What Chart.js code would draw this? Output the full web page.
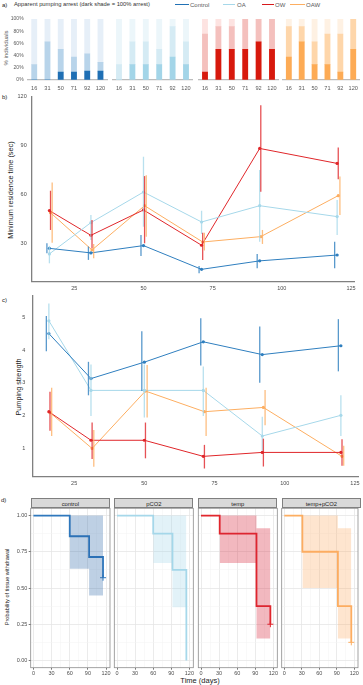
<!DOCTYPE html>
<html>
<head>
<meta charset="UTF-8">
<title>Pumping arrest, residence time, pumping strength, withdrawal</title>
<script src="https://cdn.jsdelivr.net/npm/chart.js@4.4.1/dist/chart.umd.min.js"></script>
<style>
  body { margin:0; background:#fff; font-family:"Liberation Sans", Arial, Helvetica, sans-serif; }
  #fig { position:relative; width:363px; height:685px; overflow:hidden; }
  #fig canvas { position:absolute; left:0; top:0; }
  .t { position:absolute; white-space:nowrap; color:#222; line-height:1; }
  .rot { transform:translate(-50%,-50%) rotate(-90deg); }
  .mid { transform:translate(-50%,-50%); }
  .vm { transform:translateY(-50%); }
  .leg { position:absolute; height:1.3px; }
  .strip { position:absolute; background:#d9d9d9; border:0.7px solid #7f7f7f; box-sizing:border-box;
           font-size:5.8px; color:#1a1a1a; text-align:center; line-height:10px; }
</style>
</head>
<body>
<div id="fig">
  <!-- a) header + legend -->
  <div class="t vm" style="left:2px;top:4.7px;font-size:6px">a)</div>
  <div class="t vm" style="left:14px;top:4.7px;font-size:5.8px;color:#333">Apparent pumping arrest (dark shade = 100% arrest)</div>
  <div class="leg" style="left:175px;width:14px;top:3.8px;background:#2171b5"></div>
  <div class="t vm" style="left:190px;top:4.7px;font-size:6px;color:#595959">Control</div>
  <div class="leg" style="left:223px;width:12px;top:3.8px;background:#a6d8ea"></div>
  <div class="t vm" style="left:237px;top:4.7px;font-size:6px;color:#595959">OA</div>
  <div class="leg" style="left:262px;width:12px;top:3.8px;background:#d7191c"></div>
  <div class="t vm" style="left:275px;top:4.7px;font-size:6px;color:#595959">OW</div>
  <div class="leg" style="left:290px;width:15px;top:3.8px;background:#fdae61"></div>
  <div class="t vm" style="left:306px;top:4.7px;font-size:6px;color:#595959">OAW</div>
  <div class="t rot" style="left:6px;top:48px;font-size:6px;color:#595959">% individuals</div>

  <!-- b) -->
  <div class="t vm" style="left:2px;top:97px;font-size:6px">b)</div>
  <div class="t rot" style="left:11px;top:190px;font-size:7.3px">Minimum residence time (sec)</div>

  <!-- c) -->
  <div class="t vm" style="left:2px;top:300px;font-size:6px">c)</div>
  <div class="t rot" style="left:18.5px;top:387px;font-size:7.3px">Pumping strength</div>

  <!-- d) -->
  <div class="t vm" style="left:1px;top:500px;font-size:6px">d)</div>
  <div class="t rot" style="left:8.3px;top:587px;font-size:5.6px">Probability of tissue withdrawal</div>
  <div class="t mid" style="left:200px;top:680.5px;font-size:7.5px">Time (days)</div>
  <div class="strip" style="left:30.7px;width:79.3px;top:497.7px;height:10.8px">control</div>
  <div class="strip" style="left:114.3px;width:79px;top:497.7px;height:10.8px">pCO2</div>
  <div class="strip" style="left:198.3px;width:79px;top:497.7px;height:10.8px">temp</div>
  <div class="strip" style="left:281.7px;width:79.3px;top:497.7px;height:10.8px">temp+pCO2</div>
</div>

<script>
// ---- data ----
var days = [16, 31, 50, 71, 92, 120];

// a) % individuals: full arrest (dark) and any apparent arrest (dark + mid shade)
var fullCtrl = [0, 0, 12.5, 12.5, 14.3, 14.3];
var anyCtrl  = [25, 62.5, 50, 37.5, 42.9, 28.6];
var fullOA   = [0, 25, 25, 25, 37.5, 25];
var anyOA    = [25, 62.5, 62.5, 50, 87.5, 62.5];
var fullOW   = [12.5, 50, 50, 50, 62.5, 50];
var anyOW    = [75, 87.5, 87.5, 100, 100, 100];
var fullOAW  = [37.5, 62.5, 25, 25, 12.5, 50];
var anyOAW   = [87.5, 87.5, 62.5, 75, 75, 100];

// b) minimum residence time (sec): mean, lower, upper
var resCtrl  = [26.9, 24.1, 28.6, 14.0, 19.2, 22.8];
var resCtrlLo = [23.9, 19.8, 22.2, 11.6, 14.7, 14.7];
var resCtrlHi = [30.0, 28.0, 35.1, 16.1, 23.5, 31.0];
var resOA    = [23.5, 42.7, 61.5, 43.1, 53.1, 46.4];
var resOALo  = [17.7, 32.0, 40.2, 35.7, 31.0, 35.1];
var resOAHi  = [28.4, 47.4, 83.2, 50.0, 75.0, 56.6];
var resOW    = [50.1, 34.9, 50.5, 28.8, 88.3, 79.1];
var resOWLo  = [38.2, 26.9, 30.0, 19.8, 61.7, 69.3];
var resOWHi  = [62.3, 44.3, 71.3, 36.5, 114.9, 88.9];
var resOAW   = [48.8, 25.9, 53.1, 30.8, 34.1, 59.3];
var resOAWLo = [30.4, 20.8, 34.1, 25.5, 29.6, 47.4];
var resOAWHi = [67.4, 29.6, 71.9, 36.5, 38.2, 71.0];

// c) pumping strength: mean, lower, upper
var pumpCtrl   = [4.50, 3.13, 3.63, 4.25, 3.86, 4.13];
var pumpCtrlLo = [3.96, 2.62, 2.75, 3.53, 3.00, 3.35];
var pumpCtrlHi = [5.04, 3.64, 4.57, 4.97, 4.72, 4.94];
var pumpOA     = [4.89, 2.77, 2.77, 2.77, 1.38, 2.01];
var pumpOALo   = [4.33, 1.99, 1.94, 1.99, 0.93, 1.38];
var pumpOAHi   = [5.42, 3.56, 3.56, 3.50, 1.97, 2.62];
var pumpOW     = [2.12, 1.25, 1.25, 0.76, 0.88, 0.88];
var pumpOWLo   = [1.54, 0.68, 0.70, 0.39, 0.45, 0.47];
var pumpOWHi   = [2.73, 1.79, 1.79, 1.11, 1.30, 1.28];
var pumpOAW    = [2.09, 1.00, 2.75, 2.12, 2.25, 0.76];
var pumpOAWLo  = [1.38, 0.44, 1.94, 1.38, 1.71, 0.47];
var pumpOAWHi  = [2.85, 1.56, 3.54, 2.85, 2.78, 1.08];

// d) survival (probability of no tissue withdrawal) and confidence band
var facetNames = ['control', 'pCO2', 'temp', 'temp+pCO2'];
var survTCtrl = [0, 60, 92, 115];  var survCtrl = [1, 0.857, 0.714, 0.571];
var ciTCtrl = [60, 92, 115];       var ciHiCtrl = [1, 1, 1];         var ciLoCtrl = [0.633, 0.448, 0.448];
var survTCO2 = [0, 60, 92, 115];   var survCO2 = [1, 0.875, 0.625, 0];
var ciTCO2 = [60, 92, 115];        var ciHiCO2 = [1, 1, 1];          var ciLoCO2 = [0.673, 0.367, 0.367];
var survTTemp = [0, 31, 92, 115];  var survTemp = [1, 0.875, 0.375, 0.25];
var ciTTemp = [31, 92, 115];       var ciHiTemp = [1, 0.912, 0.912]; var ciLoTemp = [0.673, 0.151, 0.151];
var survTBoth = [0, 31, 92, 115];  var survBoth = [1, 0.75, 0.375, 0.125];
var ciTBoth = [31, 92, 115];       var ciHiBoth = [1, 0.912, 0.912]; var ciLoBoth = [0.5, 0.151, 0.151];

// ---- setup ----
var W = 363, H = 685;
Chart.defaults.font.family = '"Liberation Sans", Arial, Helvetica, sans-serif';
Chart.defaults.font.size = 5.5;
Chart.defaults.color = '#4d4d4d';
Chart.defaults.animation = false;
Chart.defaults.responsive = false;
Chart.defaults.events = [];
Chart.defaults.plugins.legend.display = false;
Chart.defaults.plugins.tooltip.enabled = false;

function makeCanvas() {
  var c = document.createElement('canvas');
  c.width = W; c.height = H;
  document.getElementById('fig').appendChild(c);
  return c;
}
// area = [left, right, top, bottom] of plotting area in page px
function pad(area, yw, xh) {
  return { padding: { left: area[0] - yw, right: W - area[1], top: area[2], bottom: H - area[3] - xh } };
}
function fixTicks(vals) {
  return function (s) { s.ticks = vals.map(function (v) { return { value: v }; }); };
}
function rgba(hex, a) {
  var n = parseInt(hex.slice(1), 16);
  return 'rgba(' + (n >> 16) + ',' + ((n >> 8) & 255) + ',' + (n & 255) + ',' + a + ')';
}

// ---- a) stacked bars ----
var barGroups = [
  { full: fullCtrl, any: anyCtrl, cols: ['#1f6fb4', '#b8d4ea', '#e6eff8'], x: [27.6, 107.1] },
  { full: fullOA,   any: anyOA,   cols: ['#a3d5e8', '#d5ebf4', '#ecf6fa'], x: [112.3, 192.7] },
  { full: fullOW,   any: anyOW,   cols: ['#d7190d', '#f4c0bd', '#fde3e1'], x: [198.3, 278.7] },
  { full: fullOAW,  any: anyOAW,  cols: ['#fdab55', '#fed6aa', '#fef1e3'], x: [282.4, 361.6] }
];
barGroups.forEach(function (g, k) {
  var yw = k === 0 ? 27.6 : 0;
  new Chart(makeCanvas(), {
    type: 'bar',
    data: {
      labels: days.map(String),
      datasets: [
        { data: g.full, backgroundColor: g.cols[0] },
        { data: g.any.map(function (v, i) { return v - g.full[i]; }), backgroundColor: g.cols[1] },
        { data: g.any.map(function (v) { return 100 - v; }), backgroundColor: g.cols[2] }
      ]
    },
    options: {
      layout: pad([g.x[0], g.x[1], 19, 79.8], yw, 14),
      datasets: { bar: { barThickness: 5.2, borderWidth: 0 } },
      scales: {
        x: {
          stacked: true, grid: { display: false, drawTicks: false },
          border: { display: true, color: '#bdbdbd', width: 1.3 },
          ticks: { padding: 5, color: '#595959', maxRotation: 0, font: { size: 5.6 } },
          afterFit: function (s) { s.height = 14; }
        },
        y: {
          stacked: true, min: 0, max: 100, display: k === 0,
          grid: { display: false, drawTicks: false }, border: { display: false },
          afterBuildTicks: fixTicks([0, 20, 40, 60, 80, 100]),
          ticks: { padding: 4, color: '#595959', font: { size: 5 }, callback: function (v) { return v + '%'; } },
          afterFit: function (s) { s.width = yw; }
        }
      }
    }
  });
});

// ---- b) and c) lines with error bars ----
var seriesLook = [
  { color: '#2f7fbf', ptShift: 0,   barShift: -0.9 },
  { color: '#a6d8ea', ptShift: 0,   barShift: 0 },
  { color: '#e0262a', ptShift: 0,   barShift: 0.4 },
  { color: '#fdae61', ptShift: 0.4, barShift: 1.0 }
];
var errorBars = {
  id: 'errorBars',
  afterDatasetsDraw: function (chart) {
    var ctx = chart.ctx, xs = chart.scales.x, ys = chart.scales.y;
    chart.data.datasets.forEach(function (ds) {
      ctx.save();
      ctx.strokeStyle = rgba(ds.borderColor, 0.8);
      ctx.lineWidth = 1.3;
      ds.lo.forEach(function (lo, i) {
        var x = xs.getPixelForValue(days[i] + ds.barShift);
        ctx.beginPath();
        ctx.moveTo(x, ys.getPixelForValue(lo));
        ctx.lineTo(x, ys.getPixelForValue(ds.hi[i]));
        ctx.stroke();
      });
      ctx.restore();
    });
  }
};
function meanChart(area, yw, yRange, yTicks, xRange, yPad, means, los, his) {
  new Chart(makeCanvas(), {
    type: 'line',
    data: {
      datasets: means.map(function (m, s) {
        var look = seriesLook[s];
        return {
          data: m.map(function (v, i) { return { x: days[i] + look.ptShift, y: v }; }),
          lo: los[s], hi: his[s], barShift: look.barShift,
          borderColor: look.color, backgroundColor: look.color,
          borderWidth: 1, pointRadius: 1.6, pointBorderWidth: 0, tension: 0
        };
      })
    },
    options: {
      layout: pad(area, yw, 12),
      scales: {
        x: {
          type: 'linear', min: xRange[0], max: xRange[1],
          grid: { display: false, drawTicks: false },
          border: { display: true, color: '#808080', width: 1.3 },
          afterBuildTicks: fixTicks([25, 50, 75, 100, 125]),
          ticks: { padding: 3, maxRotation: 0 },
          afterFit: function (s) { s.height = 12; }
        },
        y: {
          min: yRange[0], max: yRange[1],
          grid: { display: false, drawTicks: false },
          border: { display: true, color: '#808080', width: 1.3 },
          afterBuildTicks: fixTicks(yTicks),
          ticks: { padding: yPad },
          afterFit: function (s) { s.width = yw; }
        }
      }
    },
    plugins: [errorBars]
  });
}
meanChart([31.7, 354.3, 96.7, 281.7], 31.7, [6.4, 120.1], [30, 60, 90, 120], [9.6, 126.2], 5,
  [resCtrl, resOA, resOW, resOAW], [resCtrlLo, resOALo, resOWLo, resOAWLo], [resCtrlHi, resOAHi, resOWHi, resOAWHi]);
meanChart([32.3, 358.3, 295.2, 476.7], 32.3, [0.14, 5.67], [1, 2, 3, 4, 5], [10.1, 126.2], 7,
  [pumpCtrl, pumpOA, pumpOW, pumpOAW], [pumpCtrlLo, pumpOALo, pumpOWLo, pumpOAWLo], [pumpCtrlHi, pumpOAHi, pumpOWHi, pumpOAWHi]);

// ---- d) Kaplan-Meier facets ----
var frame = {
  id: 'frame',
  afterDraw: function (chart) {
    var a = chart.chartArea, ctx = chart.ctx;
    ctx.save();
    ctx.strokeStyle = '#8c8c8c'; ctx.lineWidth = 0.8;
    ctx.strokeRect(a.left, a.top, a.right - a.left, a.bottom - a.top);
    ctx.restore();
  }
};
var facets = [
  { x: [30.7, 110],   t: survTCtrl, s: survCtrl, ct: ciTCtrl, hi: ciHiCtrl, lo: ciLoCtrl, col: '#2f78bd', fill: 'rgba(40,100,165,0.3)', cens: true },
  { x: [114.3, 193.3], t: survTCO2, s: survCO2, ct: ciTCO2, hi: ciHiCO2, lo: ciLoCO2, col: '#a6d8ea', fill: 'rgba(160,212,233,0.3)', cens: false },
  { x: [198.3, 277.3], t: survTTemp, s: survTemp, ct: ciTTemp, hi: ciHiTemp, lo: ciLoTemp, col: '#e1272d', fill: 'rgba(215,35,55,0.32)', cens: true },
  { x: [281.7, 361],  t: survTBoth, s: survBoth, ct: ciTBoth, hi: ciHiBoth, lo: ciLoBoth, col: '#fdae61', fill: 'rgba(253,170,95,0.3)', cens: true }
];
function isMajor(v, step) { return Math.abs(v / step - Math.round(v / step)) < 1e-6; }
facets.forEach(function (f, k) {
  var yw = k === 0 ? 30.7 : 0;
  var last = f.t.length - 1;
  new Chart(makeCanvas(), {
    type: 'line',
    data: {
      datasets: [
        { data: f.ct.map(function (t, i) { return { x: t, y: f.hi[i] }; }), stepped: 'before',
          borderColor: 'rgba(0,0,0,0)', pointRadius: 0, fill: false },
        { data: f.ct.map(function (t, i) { return { x: t, y: f.lo[i] }; }), stepped: 'before',
          borderColor: 'rgba(0,0,0,0)', pointRadius: 0, fill: '-1', backgroundColor: f.fill },
        { data: f.t.map(function (t, i) { return { x: t, y: f.s[i] }; }), stepped: 'before',
          borderColor: f.col, borderWidth: 1.8, fill: false,
          pointStyle: 'cross', pointBorderColor: f.col, pointBorderWidth: 1,
          pointRadius: f.t.map(function (t, i) { return f.cens && i === last ? 3 : 0; }) }
      ]
    },
    options: {
      layout: pad([f.x[0], f.x[1], 508.3, 667.7], yw, 8),
      scales: {
        x: {
          type: 'linear', min: -4.5, max: 126.5,
          afterBuildTicks: fixTicks([0, 15, 30, 45, 60, 75, 90, 105, 120]),
          grid: {
            color: function (c) { return isMajor(c.tick.value, 30) ? '#e6e6e6' : '#f3f3f3'; },
            lineWidth: function (c) { return isMajor(c.tick.value, 30) ? 0.8 : 0.5; },
            tickLength: 2,
            tickColor: function (c) { return isMajor(c.tick.value, 30) ? '#555' : 'rgba(0,0,0,0)'; }
          },
          border: { display: false },
          ticks: { padding: 0.5, maxRotation: 0, autoSkip: false,
                   callback: function (v) { return isMajor(v, 30) ? v : ''; } },
          afterFit: function (s) { s.height = 8; }
        },
        y: {
          min: -0.05, max: 1.05,
          afterBuildTicks: fixTicks([0, 0.125, 0.25, 0.375, 0.5, 0.625, 0.75, 0.875, 1]),
          grid: {
            color: function (c) { return isMajor(c.tick.value, 0.25) ? '#e6e6e6' : '#f3f3f3'; },
            lineWidth: function (c) { return isMajor(c.tick.value, 0.25) ? 0.8 : 0.5; },
            drawTicks: k === 0, tickLength: 2,
            tickColor: function (c) { return isMajor(c.tick.value, 0.25) ? '#555' : 'rgba(0,0,0,0)'; }
          },
          border: { display: false },
          ticks: { display: k === 0, padding: 1.3, autoSkip: false,
                   callback: function (v) { return isMajor(v, 0.25) ? v.toFixed(2) : ''; } },
          afterFit: function (s) { s.width = yw; }
        }
      }
    },
    plugins: [frame]
  });
});
</script>
</body>
</html>
